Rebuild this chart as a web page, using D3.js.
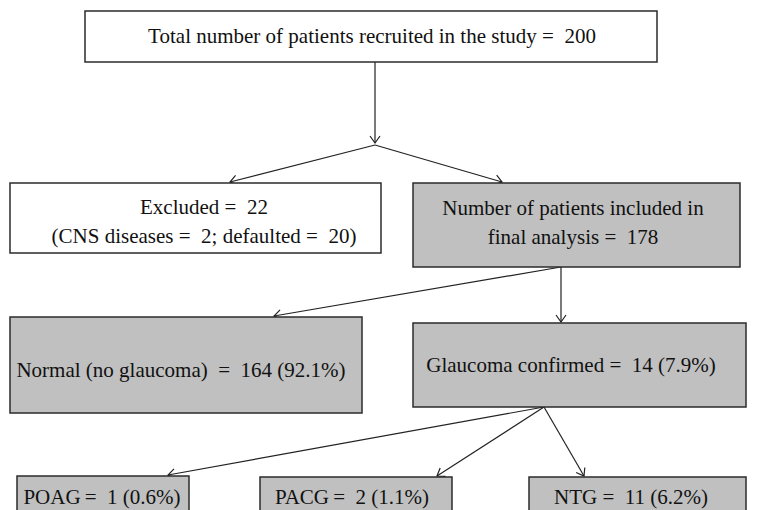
<!DOCTYPE html>
<html>
<head>
<meta charset="utf-8">
<script src="https://cdn.jsdelivr.net/npm/d3@7"></script>
<style>
    html, body { margin: 0; padding: 0; background: #fff; }
    svg text { font-family: "Liberation Serif", "DejaVu Serif", serif; white-space: pre; fill: #111; }
</style>
</head>
<body>
<div id="chart"></div>
<script>
// flow chart data: patient counts per stage
var groups = ["total", "excluded", "included", "normal", "glaucoma", "poag", "pacg", "ntg"];
var counts = [200, 22, 178, 164, 14, 1, 2, 11];
var parents = [null, "total", "total", "included", "included", "glaucoma", "glaucoma", "glaucoma"];
var shaded = [false, false, true, true, true, true, true, true];
var excludedReasons = ["CNS diseases", "defaulted"];
var excludedCounts = [2, 20];

var width = 757, height = 510;

var byId = {};
groups.forEach(function(g, i) { byId[g] = counts[i]; });
var pct = function(v) { return "(" + d3.format(".1%")(v / byId.included) + ")"; };

var labels = {
    total: ["Total number of patients recruited in the study =  " + byId.total],
    excluded: ["Excluded =  " + byId.excluded,
        "(" + excludedReasons[0] + " =  " + excludedCounts[0] + "; " + excludedReasons[1] + " =  " + excludedCounts[1] + ")"],
    included: ["Number of patients included in", "final analysis =  " + byId.included],
    normal: ["Normal (no glaucoma)  =  " + byId.normal + " " + pct(byId.normal)],
    glaucoma: ["Glaucoma confirmed =  " + byId.glaucoma + " " + pct(byId.glaucoma)],
    poag: ["POAG\u2009=  " + byId.poag + " " + pct(byId.poag)],
    pacg: ["PACG\u2009=  " + byId.pacg + " " + pct(byId.pacg)],
    ntg: ["NTG =  " + byId.ntg + " " + pct(byId.ntg)]
};

// box geometry (x, y, w, h), text centre, and where arrows leave / arrive
var layout = {
    total:    { x: 85,  y: 11,  w: 572, h: 51, tx: 372, ty: 36,  outX: 375 },
    excluded: { x: 10,  y: 183, w: 371, h: 70, tx: 204, ty: 222, inX: 230 },
    included: { x: 413, y: 183, w: 327, h: 84, tx: 573, ty: 223, inX: 502, outX: 561 },
    normal:   { x: 10,  y: 317, w: 352, h: 96, tx: 181, ty: 370, inX: 274 },
    glaucoma: { x: 413, y: 323, w: 333, h: 84, tx: 571, ty: 365, inX: 561, outX: 544 },
    poag:     { x: 17,  y: 476, w: 172, h: 50, tx: 102, ty: 497, inX: 168 },
    pacg:     { x: 260, y: 477, w: 192, h: 50, tx: 352, ty: 497, inX: 437 },
    ntg:      { x: 529, y: 477, w: 217, h: 50, tx: 631, ty: 497, inX: 584 }
};
var splitY = 145;     // where the first arrow fans out
var lineGap = 29;

var svg = d3.select("#chart").append("svg")
    .attr("width", width)
    .attr("height", height);

svg.append("defs").append("marker")
    .attr("id", "head")
    .attr("markerUnits", "userSpaceOnUse")
    .attr("viewBox", "-10 -7 12 14")
    .attr("refX", 0).attr("refY", 0)
    .attr("markerWidth", 12).attr("markerHeight", 14)
    .attr("orient", "auto")
    .append("path")
    .attr("d", "M-7,-5L0,0L-7,5")
    .attr("fill", "none")
    .attr("stroke", "#222")
    .attr("stroke-width", 1.2);

// arrows
var links = [];
groups.forEach(function(g, i) {
    var p = parents[i];
    if (!p) return;
    var a = layout[p], b = layout[g];
    var sx = a.outX, sy = a.y + a.h;
    if (p === "total") sy = splitY;
    links.push({ x1: sx, y1: sy, x2: b.inX, y2: b.y - 1 });
});
// trunk from the top box down to the fan-out point
links.push({ x1: layout.total.outX, y1: layout.total.y + layout.total.h, x2: layout.total.outX, y2: splitY - 2 });

svg.append("g").selectAll("line")
    .data(links)
    .join("line")
    .attr("x1", function(d) { return d.x1; })
    .attr("y1", function(d) { return d.y1; })
    .attr("x2", function(d) { return d.x2; })
    .attr("y2", function(d) { return d.y2; })
    .attr("stroke", "#222")
    .attr("stroke-width", 1.2)
    .attr("marker-end", "url(#head)");

// boxes
var nodes = svg.append("g").selectAll("g")
    .data(groups)
    .join("g");

nodes.append("rect")
    .attr("x", function(d) { return layout[d].x; })
    .attr("y", function(d) { return layout[d].y; })
    .attr("width", function(d) { return layout[d].w; })
    .attr("height", function(d) { return layout[d].h; })
    .attr("fill", function(d, i) { return shaded[i] ? "#c0c0c0" : "#fff"; })
    .attr("stroke", "#2b2b2b")
    .attr("stroke-width", 1.5);

nodes.append("text")
    .attr("text-anchor", "middle")
    .attr("font-size", "21px")
    .each(function(d) {
        var lines = labels[d];
        var L = layout[d];
        var y0 = L.ty - (lines.length - 1) * lineGap / 2;
        d3.select(this).selectAll("tspan")
            .data(lines)
            .join("tspan")
            .attr("x", L.tx)
            .attr("y", function(t, j) { return y0 + j * lineGap; })
            .attr("dy", "0.33em")
            .text(function(t) { return t; });
    });
</script>
</body>
</html>
